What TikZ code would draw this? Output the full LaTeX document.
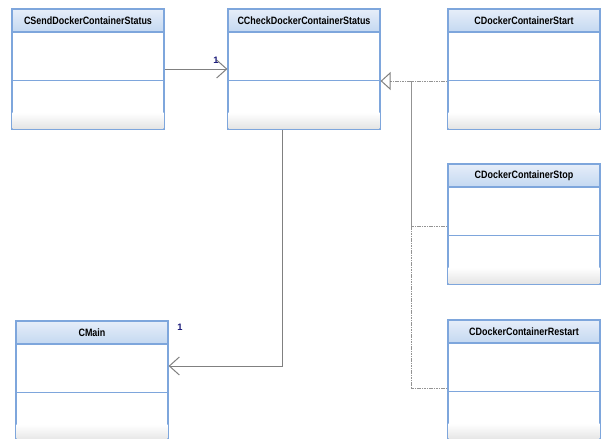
\documentclass[tikz,border=0pt]{standalone}
\usepackage{fontspec}
\setmainfont{Liberation Sans}
\newfontfamily\umlfont[FakeStretch=0.84]{Liberation Sans}
\usetikzlibrary{arrows.meta}

\definecolor{umlborder}{RGB}{126,166,220}
\definecolor{umlheadtop}{RGB}{230,238,249}
\definecolor{umlheadbot}{RGB}{196,216,241}
\definecolor{umlfoot}{RGB}{228,228,228}
\definecolor{umlwire}{RGB}{128,128,128}
\definecolor{umlmult}{RGB}{24,24,120}

\begin{document}
\begin{tikzpicture}[x=0.75pt,y=0.75pt,yscale=-1,
  classbox/.style={draw=umlborder, line width=0.9pt, fill=white, minimum width=114pt, minimum height=90pt, inner sep=0pt},
  classhead/.style={draw=umlborder, line width=0.9pt, top color=umlheadtop, bottom color=umlheadbot, minimum width=114pt, minimum height=17.25pt, inner sep=0pt, anchor=north, font=\umlfont\bfseries\fontsize{8}{9}\selectfont},
  classfoot/.style={top color=white, bottom color=umlfoot, minimum width=113pt, minimum height=12pt, inner sep=0pt, anchor=south},
  classline/.style={draw=umlborder, line width=0.9pt},
  assoc/.style={draw=umlwire, line width=0.75pt, -{Straight Barb[length=7.5pt,width=13.5pt]}},
  realize/.style={draw=umlwire!85, line width=0.5pt, dash pattern=on 1.2pt off 0.6pt},
  mult/.style={text=umlmult, inner sep=0pt, font=\bfseries\fontsize{7}{8}\selectfont}
]
\useasboundingbox (0,0) rectangle (601,439);

%Shape: Class boxes
\foreach \name/\cx/\cy/\title in {send/88/69/CSendDockerContainerStatus,
    check/304/69/CCheckDockerContainerStatus,
    start/524/69/CDockerContainerStart,
    stop/524/224/CDockerContainerStop,
    restart/524/380/CDockerContainerRestart,
    main/92/381/CMain}{
  \node[classbox] (\name) at (\cx,\cy) {};
  \node[classfoot] (\name foot) at ([yshift=-0.5pt]\name.south) {};
  \node[classhead] (\name head) at (\name.north) {\title};
  \draw[classline] ([yshift=54pt]\name.north west) -- ([yshift=54pt]\name.north east);
  \draw[classline] (\name.north west) rectangle (\name.south east);
}

%Straight Lines: association
\draw[assoc] (send.east) -- (check.west);
\draw[assoc] ([xshift=-16.5pt]check.south) |- ([yshift=-11.25pt]main.east);

%Straight Lines: generalization
\coordinate (hub) at (411,81);
\draw[realize] ([yshift=9pt]start.west) -- (hub);
\draw[realize] ([yshift=1.5pt]stop.west) -| (hub);
\draw[realize] ([yshift=6pt]restart.west) -| (hub);
\draw[realize] (hub) -- (390,81);
\draw[draw=umlwire, line width=0.75pt, -{Triangle[open,length=7.5pt,width=13.5pt]}] (390,81) -- ([yshift=9pt]check.east);

% Text Node
\node[mult] (checkmult) at (216,60) {1};
% Text Node
\node[mult] (mainmult) at (180,327) {1};

\end{tikzpicture}
\end{document}
